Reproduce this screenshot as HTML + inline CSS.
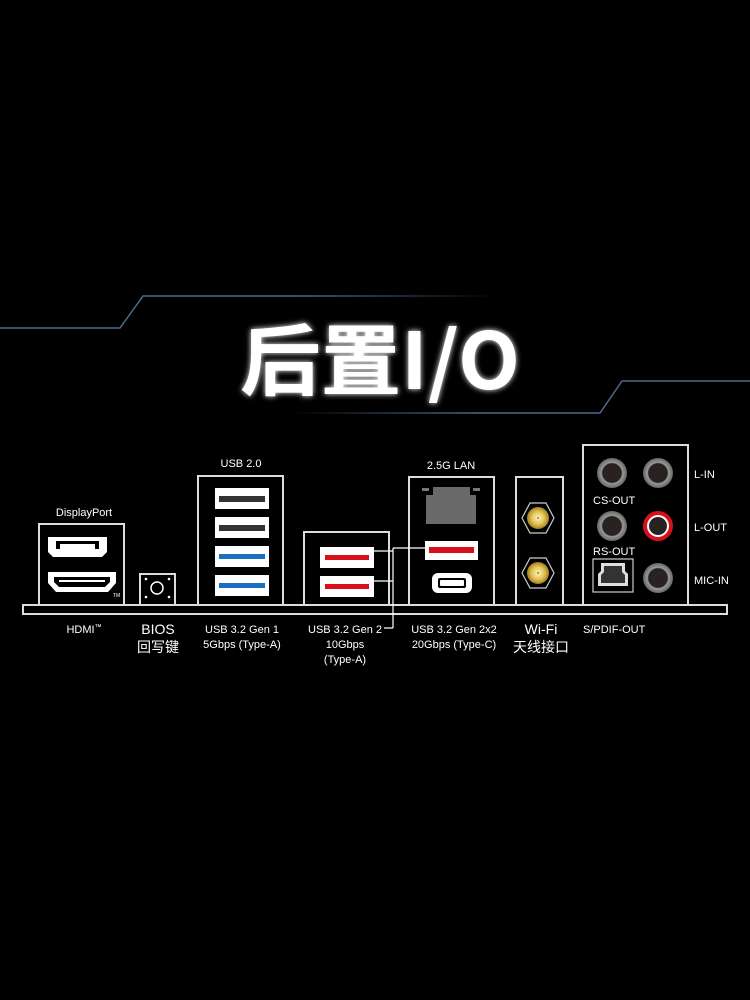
<!DOCTYPE html>
<html><head><meta charset="utf-8"><style>
html,body{margin:0;padding:0;background:#000;width:750px;height:1000px;overflow:hidden}
svg text{font-family:"Liberation Sans","Noto Sans CJK SC",sans-serif;fill:#fff}
</style></head><body>
<svg width="750" height="1000" viewBox="0 0 750 1000" xmlns="http://www.w3.org/2000/svg">
<defs>
<linearGradient id="l1" x1="0" x2="1"><stop offset="0" stop-color="#4a6a8c"/><stop offset="0.6" stop-color="#4a6a8c"/><stop offset="1" stop-color="#4a6a8c" stop-opacity="0"/></linearGradient>
<linearGradient id="l2" x1="1" x2="0"><stop offset="0" stop-color="#4a6a8c"/><stop offset="0.6" stop-color="#4a6a8c"/><stop offset="1" stop-color="#4a6a8c" stop-opacity="0"/></linearGradient>
<filter id="glow" x="-20%" y="-40%" width="140%" height="180%"><feGaussianBlur stdDeviation="3" result="b"/><feMerge><feMergeNode in="b"/><feMergeNode in="SourceGraphic"/></feMerge></filter>
<radialGradient id="jack"><stop offset="0.5" stop-color="#2a2220"/><stop offset="0.62" stop-color="#222"/><stop offset="0.7" stop-color="#999"/><stop offset="1" stop-color="#666"/></radialGradient>
<radialGradient id="gold"><stop offset="0" stop-color="#fff6c0"/><stop offset="0.6" stop-color="#e0c050"/><stop offset="1" stop-color="#a08020"/></radialGradient>
</defs>
<path d="M0 328 L120 328 L143 296 L500 296" stroke="url(#l1)" stroke-width="1.5" fill="none"/>
<path d="M290 413 L600 413 L622 381 L750 381" stroke="url(#l2)" stroke-width="1.5" fill="none"/>
<text x="380" y="389" text-anchor="middle" font-size="78" font-weight="bold" filter="url(#glow)" style="font-family:'Noto Sans CJK SC','Liberation Sans',sans-serif" textLength="280" lengthAdjust="spacingAndGlyphs">后置I/O</text>

<g stroke="#ddd" stroke-width="2" fill="#000">
<rect x="39" y="524" width="85" height="81"/>
<rect x="140" y="574" width="35" height="31"/>
<rect x="198" y="476" width="85" height="129"/>
<rect x="304" y="532" width="85" height="73"/>
<rect x="409" y="477" width="85" height="128"/>
<rect x="516" y="477" width="47" height="128"/>
<rect x="583" y="445" width="105" height="160"/>
<rect x="23" y="605" width="704" height="9"/>
</g>
<path d="M48 537 H107 V552 L102 557 H53 L48 552 Z" fill="#fff"/>
<path d="M56 541 H99 V549 H56 Z" fill="#000"/>
<path d="M60 544 H95 V549 H60 Z" fill="#fff"/>
<path d="M48 572 H116 V583 L108 592 H56 L48 583 Z" fill="#fff"/>
<path d="M54 577 H110 V582 L105 587 H59 L54 582 Z" fill="#000"/>
<rect x="59" y="580" width="46" height="2" fill="#fff"/>
<text x="113" y="597" font-size="5">TM</text>
<circle cx="157" cy="588" r="6" fill="none" stroke="#fff" stroke-width="1.5"/>
<g fill="#fff"><circle cx="146" cy="579" r="1.3"/><circle cx="169" cy="579" r="1.3"/><circle cx="146" cy="597" r="1.3"/><circle cx="169" cy="597" r="1.3"/></g>
<g fill="#fff"><rect x="215" y="488" width="54" height="21"/><rect x="215" y="517" width="54" height="21"/><rect x="215" y="546" width="54" height="21"/><rect x="215" y="575" width="54" height="21"/></g>
<rect x="219" y="496" width="46" height="6" fill="#333"/>
<rect x="219" y="525" width="46" height="6" fill="#333"/>
<rect x="219" y="554" width="46" height="5" fill="#1a6fc0"/>
<rect x="219" y="583" width="46" height="5" fill="#1a6fc0"/>
<g fill="#fff"><rect x="320" y="547" width="54" height="21"/><rect x="320" y="576" width="54" height="21"/><rect x="425" y="541" width="53" height="19"/></g>
<rect x="325" y="555" width="44" height="5" fill="#d8101a"/>
<rect x="325" y="584" width="44" height="5" fill="#d8101a"/>
<rect x="429" y="547" width="45" height="6" fill="#d8101a"/>
<path d="M374 551 H393 M374 581 H393 M393 548 H425 M393 548 V628 M384 628 H393" stroke="#fff" stroke-width="1.2" fill="none"/>
<rect x="422" y="488" width="7" height="3" fill="#777"/><rect x="473" y="488" width="7" height="3" fill="#777"/>
<path d="M433 487 H470 V495 H476 V524 H426 V495 H433 Z" fill="#6a6a6a"/>
<rect x="432" y="573" width="40" height="20" rx="6" fill="#fff"/>
<rect x="438" y="578" width="28" height="10" rx="2" fill="#000"/>
<rect x="440" y="580" width="24" height="6" rx="1" fill="#fff"/>
<g stroke="#ccc" stroke-width="1.2" fill="#000">
<polygon points="522,518 530,503 546,503 554,518 546,533 530,533"/>
<polygon points="522,573 530,558 546,558 554,573 546,588 530,588"/>
</g>
<circle cx="538" cy="518" r="11" fill="url(#gold)"/><circle cx="538" cy="573" r="11" fill="url(#gold)"/>
<circle cx="538" cy="518" r="1" fill="#a08020"/><circle cx="538" cy="573" r="1" fill="#a08020"/>
<g fill="url(#jack)"><circle cx="612" cy="473" r="15"/><circle cx="658" cy="473" r="15"/><circle cx="612" cy="526" r="15"/><circle cx="658" cy="578" r="15"/></g>
<circle cx="658" cy="526" r="15" fill="#d8101a"/><circle cx="658" cy="526" r="11" fill="#fff"/><circle cx="658" cy="526" r="9" fill="#2a2220"/>
<rect x="593" y="559" width="40" height="33" fill="#000" stroke="#ccc" stroke-width="1.2"/>
<path d="M601 563 H625 V571 L628 574 V586 H598 V574 L601 571 Z" fill="#ddd"/>
<path d="M604 566 H622 V572 L625 575 V583 H601 V575 L604 572 Z" fill="#333"/>

<g font-size="11">
<text x="84" y="516" text-anchor="middle">DisplayPort</text>
<text x="241" y="467" text-anchor="middle">USB 2.0</text>
<text x="451" y="469" text-anchor="middle">2.5G LAN</text>
<text x="694" y="478">L-IN</text>
<text x="694" y="531">L-OUT</text>
<text x="694" y="584">MIC-IN</text>
<text x="593" y="504">CS-OUT</text>
<text x="593" y="555">RS-OUT</text>
<text x="84" y="633" text-anchor="middle">HDMI<tspan font-size="7" dy="-4">™</tspan></text>
<text x="242" y="633" text-anchor="middle">USB 3.2 Gen 1</text>
<text x="242" y="648" text-anchor="middle">5Gbps (Type-A)</text>
<text x="345" y="633" text-anchor="middle">USB 3.2 Gen 2</text>
<text x="345" y="648" text-anchor="middle">10Gbps</text>
<text x="345" y="663" text-anchor="middle">(Type-A)</text>
<text x="454" y="633" text-anchor="middle">USB 3.2 Gen 2x2</text>
<text x="454" y="648" text-anchor="middle">20Gbps (Type-C)</text>
<text x="583" y="633">S/PDIF-OUT</text>
</g>
<g font-size="14">
<text x="158" y="634" text-anchor="middle">BIOS</text>
<text x="158" y="652" text-anchor="middle">回写键</text>
<text x="541" y="634" text-anchor="middle">Wi-Fi</text>
<text x="541" y="652" text-anchor="middle">天线接口</text>
</g>
</svg>
</body></html>
